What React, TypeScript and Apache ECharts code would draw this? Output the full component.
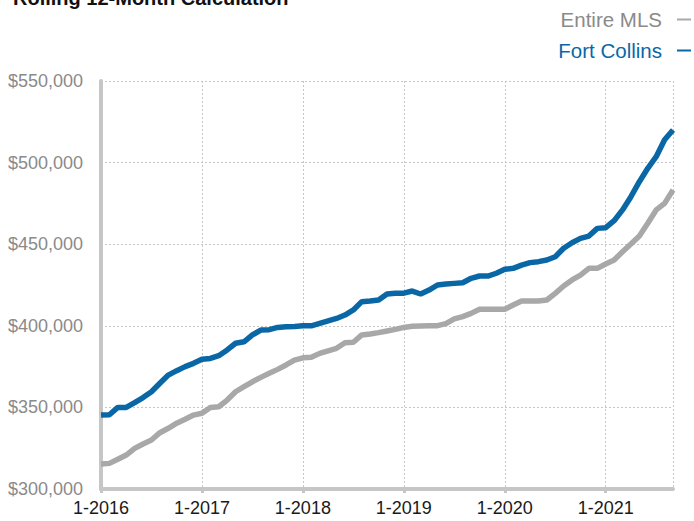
import React, { useEffect, useRef } from "react";
import * as echarts from "echarts";

const years = [2016, 2017, 2018, 2019, 2020, 2021];
const lastMonthOf2021 = 9;

const fortCollins = [
  345300, 345500, 350000, 350000, 352900, 356000, 359600, 364800, 369800, 372500, 375000, 377000,
  379500, 380000, 381700, 385200, 389300, 390200, 394400, 397400, 397600, 399000, 399400, 399600,
  400000, 400000, 401500, 403000, 404500, 406600, 409700, 414800, 415200, 415800, 419500, 420000,
  420000, 421300, 419500, 421900, 425000, 425600, 426000, 426400, 429100, 430500, 430500, 432200,
  434600, 435200, 437200, 438700, 439300, 440300, 442300, 447500, 450900, 453600, 455000, 459700,
  460100, 464400, 471000, 479100, 488300, 496500, 503600, 514000, 520000,
];

const entireMLS = [
  315300, 315700, 318200, 320800, 324900, 327600, 330000, 334500, 337200, 340300, 342700, 345300,
  346400, 350000, 350400, 354500, 359600, 362700, 365700, 368400, 370900, 373300, 376000, 379000,
  380400, 380700, 383100, 384700, 386200, 389600, 389900, 394400, 395000, 395800, 396800, 397800,
  399000, 399700, 399900, 400000, 400100, 401300, 404200, 405600, 407600, 410100, 410100, 410100,
  410100, 412700, 415200, 415200, 415200, 415800, 419900, 424400, 428100, 431100, 435200, 435200,
  437900, 440300, 445400, 450100, 455000, 462800, 471000, 475000, 483200,
];

const categories: string[] = [];
years.forEach((y) => {
  const months = y === 2021 ? lastMonthOf2021 : 12;
  for (let m = 1; m <= months; m++) categories.push(`${m}-${y}`);
});

const yTicks = { min: 300000, max: 550000, interval: 50000 };

const FONT = '"Liberation Sans", Arial, Helvetica, sans-serif';
const BLUE = "#0a67a6";
const GRAY = "#a8a8a8";
const AXIS = "#c6c6c6";

export default function App() {
  const ref = useRef<HTMLDivElement>(null);
  useEffect(() => {
    if (!ref.current) return;
    const chart = echarts.init(ref.current, undefined, { renderer: "svg" });
    const lastIdx = categories.length - 1;
    const legendBase = {
      right: 3,
      padding: 0,
      align: "right",
      icon: "rect",
      itemWidth: 14,
      itemHeight: 2,
      textStyle: { fontSize: 20.5, lineHeight: 20, fontFamily: FONT, padding: [0, 10, 0, 0] },
    };
    chart.setOption({
      animation: false,
      backgroundColor: "#ffffff",
      textStyle: { fontFamily: FONT },
      graphic: [
        {
          type: "text",
          x: 13,
          y: 8,
          style: {
            text: "Rolling 12-Month Calculation",
            font: `bold 20px ${FONT}`,
            fill: "#111111",
            verticalAlign: "bottom",
          },
        },
      ],
      legend: [
        {
          ...legendBase,
          top: 9,
          data: [{ name: "Entire MLS", textStyle: { color: "#8a8a8a" } }],
        },
        {
          ...legendBase,
          top: 40,
          data: [{ name: "Fort Collins", textStyle: { color: BLUE } }],
        },
      ],
      grid: { left: 101, right: 21, top: 81, bottom: 32, containLabel: false },
      xAxis: {
        type: "category",
        data: categories,
        boundaryGap: false,
        axisLine: { show: true, lineStyle: { color: AXIS, width: 4 } },
        axisTick: {
          show: true,
          interval: (i: number) => i % 12 === 0,
          length: 4,
          lineStyle: { color: AXIS, width: 3 },
        },
        axisLabel: {
          interval: (i: number) => i % 12 === 0,
          color: "#1a1a1a",
          fontSize: 18,
          fontFamily: FONT,
          margin: 10,
        },
        splitLine: {
          show: true,
          interval: (i: number) => i % 12 === 0 || i === lastIdx,
          lineStyle: { color: AXIS, type: [2, 2], width: 1 },
        },
      },
      yAxis: {
        type: "value",
        min: yTicks.min,
        max: yTicks.max,
        interval: yTicks.interval,
        axisLine: { show: true, lineStyle: { color: AXIS, width: 4 } },
        axisTick: { show: false },
        axisLabel: {
          color: "#8a8a8a",
          fontSize: 18,
          fontFamily: FONT,
          margin: 18,
          formatter: (v: number) => "$" + v.toLocaleString("en-US"),
        },
        splitLine: { show: true, lineStyle: { color: AXIS, type: [2, 2], width: 1 } },
      },
      series: [
        {
          name: "Entire MLS",
          type: "line",
          data: entireMLS,
          showSymbol: false,
          symbol: "none",
          lineStyle: { color: GRAY, width: 5.5 },
          itemStyle: { color: GRAY },
        },
        {
          name: "Fort Collins",
          type: "line",
          data: fortCollins,
          showSymbol: false,
          symbol: "none",
          lineStyle: { color: BLUE, width: 5.5 },
          itemStyle: { color: BLUE },
        },
      ],
    });
    return () => chart.dispose();
  }, []);
  return (
    <div
      ref={ref}
      style={{ position: "absolute", left: 0, top: 0, width: 694, height: 521 }}
    />
  );
}
